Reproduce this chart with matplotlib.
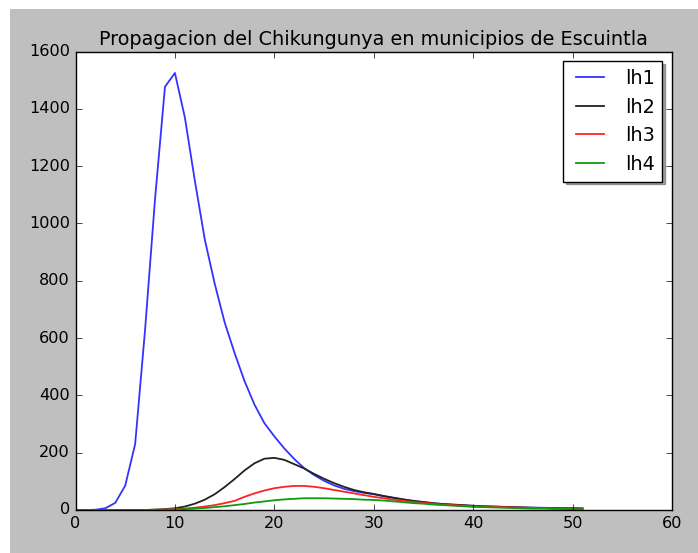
import matplotlib
matplotlib.use("Agg")
import matplotlib.pyplot as plt

plt.style.use("classic")
plt.rcParams["font.size"] = 11.6

semanas = list(range(52))

lh1 = [0, 0, 1, 6, 25, 85, 230, 630, 1085, 1477, 1525, 1370, 1150, 945, 790, 655,
       548, 450, 368, 303, 257, 215, 178, 146, 122, 102, 86, 74, 66, 60, 55, 48,
       42, 36, 31, 27, 23, 20, 18, 16, 14, 13, 12, 11, 10, 9, 8, 8, 7, 7, 6, 6]
lh2 = [0, 0, 0, 0, 0, 0, 0, 0, 1, 3, 6, 12, 22, 36, 55, 80,
       108, 138, 163, 179, 182, 175, 160, 145, 126, 109, 94, 81, 70, 62, 56, 49,
       43, 37, 32, 28, 24, 21, 19, 17, 15, 13, 12, 11, 10, 9, 8, 7, 7, 6, 6, 5]
lh3 = [0, 0, 0, 0, 0, 0, 0, 0, 1, 2, 3, 5, 8, 12, 17, 24,
       32, 46, 58, 68, 76, 81, 84, 84, 81, 76, 70, 64, 58, 52, 46, 41,
       36, 32, 28, 25, 22, 19, 17, 15, 13, 12, 11, 10, 9, 8, 7, 7, 6, 6, 5, 5]
lh4 = [0, 0, 0, 0, 0, 0, 0, 0, 1, 1, 2, 3, 5, 7, 10, 13,
       17, 21, 26, 30, 34, 37, 39, 41, 41, 41, 40, 39, 38, 36, 35, 33,
       30, 27, 24, 22, 19, 17, 15, 13, 11, 10, 9, 8, 7, 6, 5, 5, 4, 4, 3, 3]

fig = plt.figure(figsize=(6.98, 5.53), dpi=100, facecolor="#bfbfbf")


def white_strip(rect):
    # blank axes used as a white band along the screenshot edge
    s = fig.add_axes(rect, facecolor="white")
    s.set_xticks([])
    s.set_yticks([])
    for sp in s.spines.values():
        sp.set_visible(False)


white_strip([0, 0, 10 / 698, 1])
white_strip([0, 1 - 9 / 553, 1, 9 / 553])

ax = fig.add_axes([75.5 / 698, 43 / 553, 596.5 / 698, 458.5 / 553])
ax.plot(semanas, lh1, color="#3333ff", lw=1.3, label="lh1")
ax.plot(semanas, lh2, color="#222222", lw=1.3, label="lh2")
ax.plot(semanas, lh3, color="#ff2222", lw=1.3, label="lh3")
ax.plot(semanas, lh4, color="#119911", lw=1.3, label="lh4")

ax.set_xlim(0, 60)
ax.set_ylim(0, 1600)
ax.set_title("Propagacion del Chikungunya en municipios de Escuintla", fontsize=13.9)
ax.legend(loc="upper right", shadow=True, fontsize=13.9)

fig.savefig("out.png", dpi=100, facecolor="#bfbfbf")
